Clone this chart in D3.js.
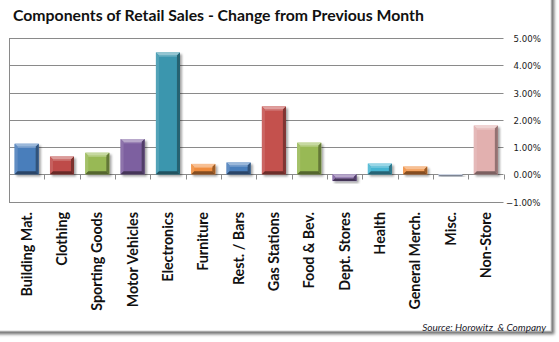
<!DOCTYPE html>
<html>
<head>
<meta charset="utf-8">
<script src="https://cdn.jsdelivr.net/npm/d3@7"></script>
<style>
  html, body { margin: 0; padding: 0; background: #ffffff; }
  svg { display: block; }
</style>
</head>
<body>
<svg id="chart" width="559" height="342"></svg>
<script>
// Monthly change by retail sales component, in percent
const categories = ["Building Mat.", "Clothing", "Sporting Goods", "Motor Vehicles", "Electronics",
  "Furniture", "Rest. / Bars", "Gas Stations", "Food & Bev.", "Dept. Stores", "Health",
  "General Merch.", "Misc.", "Non-Store"];
const changes = [1.12, 0.65, 0.79, 1.29, 4.47, 0.38, 0.43, 2.49, 1.16, -0.25, 0.39, 0.28, -0.07, 1.79];
const barColors = ["#4a7ebb", "#be4b48", "#98b954", "#7d60a0", "#3b96ae", "#f08c3c", "#4a7ebb",
  "#c4514e", "#98b954", "#7d60a0", "#46b5d2", "#f08c3c", "#b9c4dc", "#e2b0af"];
const yTicks = [-1, 0, 1, 2, 3, 4, 5];
const titleText = "Components of Retail Sales - Change from Previous Month";
const sourceText = "Source: Horowitz  & Company";

const svg = d3.select("#chart");
const defs = svg.append("defs");

// Frame shadow
const fs = defs.append("filter").attr("id", "frameShadow")
  .attr("x", "-5%").attr("y", "-5%").attr("width", "115%").attr("height", "115%");
fs.append("feDropShadow").attr("dx", 3).attr("dy", 3).attr("stdDeviation", 1.6)
  .attr("flood-color", "#000").attr("flood-opacity", 0.55);

const bs = defs.append("filter").attr("id", "barShadow")
  .attr("x", "-30%").attr("y", "-30%").attr("width", "170%").attr("height", "170%");
bs.append("feDropShadow").attr("dx", 2).attr("dy", 2).attr("stdDeviation", 1.3)
  .attr("flood-color", "#000").attr("flood-opacity", 0.35);

svg.append("rect").attr("x", -10).attr("y", -10).attr("width", 561).attr("height", 341)
  .attr("fill", "#ffffff").attr("stroke", "#b5b5b5").attr("stroke-width", 0.6)
  .attr("filter", "url(#frameShadow)");

// Title
svg.append("text").attr("x", 13).attr("y", 21)
  .attr("font-family", "Lato, 'Open Sans', sans-serif").attr("font-weight", 700)
  .attr("font-size", 15.8).attr("fill", "#111").text(titleText);

// Scales
const x = d3.scaleBand().domain(categories).range([9, 503.5]).paddingInner(0.32).paddingOuter(0.16);
const y = d3.scaleLinear().domain([-1, 5]).range([201.5, 38]);
const step = x.step();
const left = 9, right = 503.5;

// Gridlines
svg.append("g").selectAll("line").data(yTicks).join("line")
  .attr("x1", left).attr("x2", right)
  .attr("y1", d => Math.round(y(d)) + 0.5).attr("y2", d => Math.round(y(d)) + 0.5)
  .attr("stroke", "#8a8a8a").attr("stroke-width", 1);

// Left axis line
svg.append("line").attr("x1", left + 0.5).attr("x2", left + 0.5)
  .attr("y1", Math.round(y(5)) + 0.5).attr("y2", Math.round(y(-1)) + 0.5)
  .attr("stroke", "#8a8a8a");

// Category tick marks on the zero line
const zeroY = Math.round(y(0)) + 0.5;
svg.append("g").selectAll("line").data(d3.range(1, categories.length + 1)).join("line")
  .attr("x1", i => Math.round(left + i * step) + 0.5)
  .attr("x2", i => Math.round(left + i * step) + 0.5)
  .attr("y1", zeroY).attr("y2", zeroY + 5)
  .attr("stroke", "#8a8a8a");

// Right value axis labels
const fmt = d3.format(".2%");
svg.append("g").selectAll("text").data(yTicks).join("text")
  .attr("x", d => d < 0 ? 506 : 513.5)
  .attr("y", d => y(d) + 1.5)
  .attr("dominant-baseline", "middle")
  .attr("font-family", "'DejaVu Sans', Verdana, sans-serif").attr("font-size", 8.6)
  .attr("fill", "#1a1a1a")
  .text(d => fmt(d / 100));

// Bars with a bevelled look
function shade(c, k) {
  const col = d3.rgb(c);
  return k >= 0 ? d3.interpolateRgb(col, "#ffffff")(k) : d3.interpolateRgb(col, "#000000")(-k);
}

const bars = svg.append("g").selectAll("g").data(categories).join("g")
  .attr("filter", "url(#barShadow)");

bars.each(function (cat, i) {
  const g = d3.select(this);
  const v = changes[i];
  const bx = x(cat), bw = x.bandwidth();
  const y0 = Math.min(y(0), y(v)), y1 = Math.max(y(0), y(v));
  const h = y1 - y0;
  const c = barColors[i];
  const b = Math.min(3, h / 2, bw / 2);

  g.append("rect").attr("x", bx).attr("y", y0).attr("width", bw).attr("height", h)
    .attr("fill", c);
  // top facet
  g.append("polygon").attr("points",
    [[bx, y0], [bx + bw, y0], [bx + bw - b, y0 + b], [bx + b, y0 + b]].join(" "))
    .attr("fill", shade(c, 0.45));
  // left facet
  g.append("polygon").attr("points",
    [[bx, y0], [bx + b, y0 + b], [bx + b, y1 - b], [bx, y1]].join(" "))
    .attr("fill", shade(c, 0.12));
  // right facet
  g.append("polygon").attr("points",
    [[bx + bw, y0], [bx + bw, y1], [bx + bw - b, y1 - b], [bx + bw - b, y0 + b]].join(" "))
    .attr("fill", shade(c, -0.35));
  // bottom facet
  g.append("polygon").attr("points",
    [[bx, y1], [bx + b, y1 - b], [bx + bw - b, y1 - b], [bx + bw, y1]].join(" "))
    .attr("fill", shade(c, -0.45));
  // highlight along the top inner edge
  if (h > 6) {
    g.append("rect").attr("x", bx + b).attr("y", y0 + b).attr("width", bw - 2 * b).attr("height", 1.2)
      .attr("fill", shade(c, 0.25));
  }
});

// Category labels, rotated
svg.append("g").selectAll("text").data(categories).join("text")
  .attr("transform", d => `translate(${x(d) + x.bandwidth() / 2},212) rotate(-90)`)
  .attr("text-anchor", "end").attr("dy", "0.36em")
  .attr("font-family", "Lato, 'Open Sans', sans-serif").attr("font-weight", 700)
  .attr("font-size", 14.3).attr("fill", "#111")
  .text(d => d);

// Source note
svg.append("text").attr("x", 546).attr("y", 331)
  .attr("text-anchor", "end").style("white-space", "pre")
  .attr("font-family", "Lato, sans-serif").attr("font-style", "italic")
  .attr("font-size", 10).attr("fill", "#1a1a2a").text(sourceText);
</script>
</body>
</html>
